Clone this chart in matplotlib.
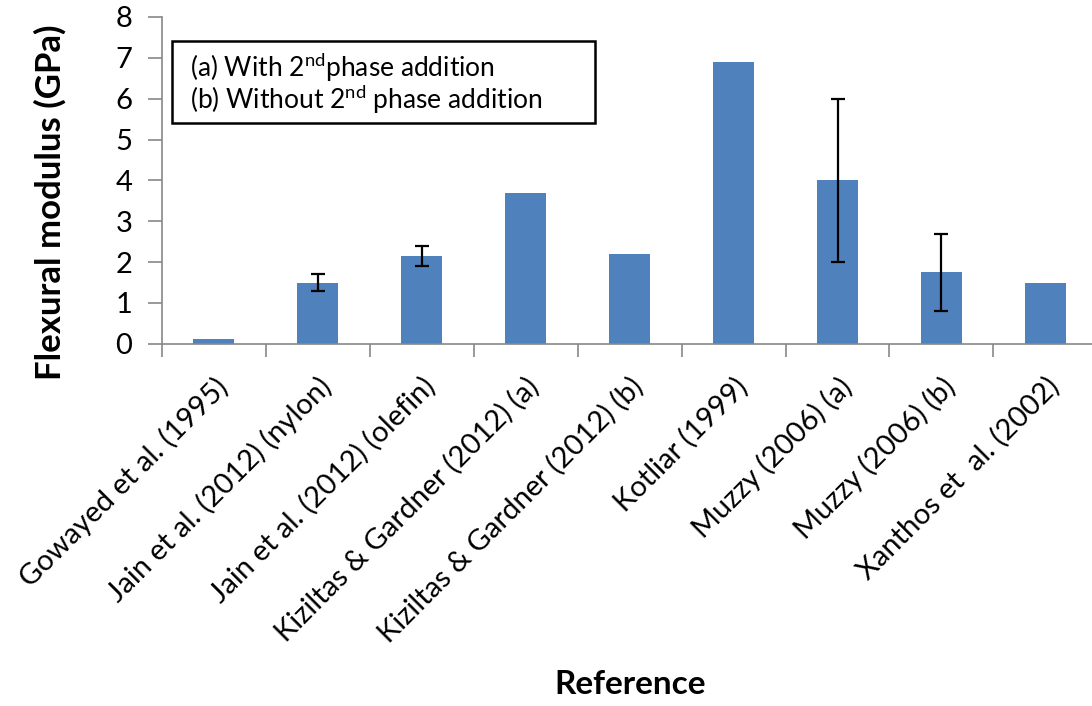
import numpy as np
import matplotlib.pyplot as plt
from matplotlib.patches import Rectangle

plt.rcParams['font.family'] = ['Lato', 'DejaVu Sans']
plt.rcParams['mathtext.fontset'] = 'custom'
plt.rcParams['mathtext.rm'] = 'Lato'

references = ['Gowayed et al. (1995)', 'Jain et al. (2012) (nylon)',
              'Jain et al. (2012) (olefin)', 'Kiziltas & Gardner (2012) (a)',
              'Kiziltas & Gardner (2012) (b)', 'Kotliar (1999)',
              'Muzzy (2006) (a)', 'Muzzy (2006) (b)', 'Xanthos et  al. (2002)']
modulus = [0.13, 1.5, 2.15, 3.7, 2.2, 6.9, 4.0, 1.75, 1.48]
err_low = [0, 0.2, 0.25, 0, 0, 0, 2.0, 0.95, 0]
err_high = [0, 0.2, 0.25, 0, 0, 0, 2.0, 0.95, 0]
has_err = [False, True, True, False, False, False, True, True, False]

W, H = 1092, 706
fig = plt.figure(figsize=(10.92, 7.06), dpi=100)
ax = fig.add_axes([0.148, 0.513, 0.857, 0.463])

x = np.arange(len(references))
ax.bar(x, modulus, width=0.4, color='#4F81BD', zorder=2)
xe = x[has_err]
ye = np.array(modulus)[has_err]
yerr = [np.array(err_low)[has_err], np.array(err_high)[has_err]]
ax.errorbar(xe, ye, yerr=yerr, fmt='none', ecolor='black', elinewidth=1.6,
            capsize=5, capthick=1.6, zorder=3)

ax.set_xlim(-0.5, len(references) - 0.5)
ax.set_ylim(0, 8)
ax.set_yticks(range(0, 9))
ax.set_xticks(x)
ax.set_xticklabels(references, rotation=45, ha='right', rotation_mode='anchor',
                   fontsize=21)
ax.set_xticks(np.arange(-0.5, len(references)), minor=True)
ax.tick_params(axis='x', which='major', length=0, pad=21)
ax.tick_params(axis='x', which='minor', length=9, width=1.2, color='#888888')
ax.tick_params(axis='y', length=10, width=1.2, color='#888888', labelsize=21, pad=11)

for s in ['top', 'right']:
    ax.spines[s].set_visible(False)
for s in ['left', 'bottom']:
    ax.spines[s].set_color('#888888')
    ax.spines[s].set_linewidth(1.2)

fig.text(50 / W, 1 - 202 / H, 'Flexural modulus (GPa)', fontsize=25,
         fontweight='bold', rotation=90, ha='center', va='center')
fig.text(630 / W, 1 - 685 / H, 'Reference', fontsize=24, fontweight='bold',
         ha='center', va='center')

# note box
fig.patches.append(Rectangle((172 / W, 1 - 123 / H), 423 / W, 82 / H,
                             transform=fig.transFigure, facecolor='white',
                             edgecolor='black', linewidth=1.8, zorder=5))
fig.text(190 / W, 1 - 68 / H, '(a) With $\\mathregular{2^{nd}}$phase addition',
         fontsize=19, va='center', zorder=6)
fig.text(190 / W, 1 - 100 / H, '(b) Without $\\mathregular{2^{nd}}$ phase addition',
         fontsize=19, va='center', zorder=6)

fig.savefig('out.png', dpi=100)
